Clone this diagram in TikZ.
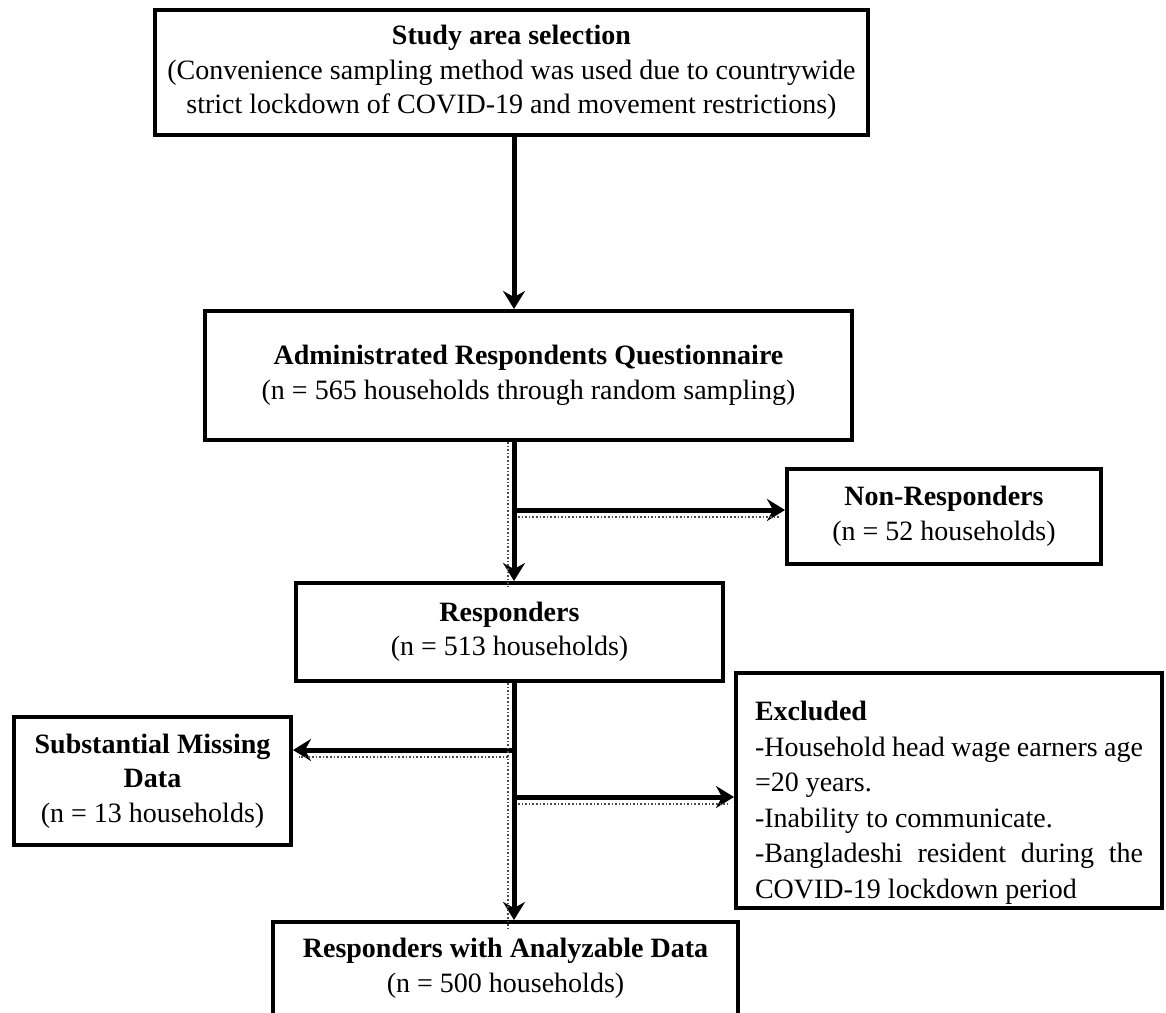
\documentclass[tikz,border=0pt]{standalone}
\usepackage{fontspec}
\setmainfont{Liberation Serif}
\usetikzlibrary{arrows.meta}
\begin{document}
\begin{tikzpicture}[x=1pt,y=-1pt,
  box/.style={draw=black, line width=4pt, align=center, inner sep=0pt,
    font=\fontsize{28}{34.5}\selectfont},
  conn/.style={line width=5pt, -{Stealth[length=18pt,width=22pt,inset=6pt]}},
  shadow/.style={line width=1.6pt, dotted, black!70}]
\useasboundingbox (0,0) rectangle (1166,1012);
\clip (0,0) rectangle (1166,1012);
\coordinate (sp) at (514,0);
\coordinate (spd) at (508,0);

\node[box, minimum width=713pt, minimum height=125pt] (study) at (511.5,72.5)
 {\textbf{Study area selection}\\(Convenience sampling method was used due to countrywide\\strict lockdown of COVID-19 and movement restrictions)};

\node[box, minimum width=647pt, minimum height=129pt] (admin) at (528.5,375.5)
 {\textbf{Administrated Respondents Questionnaire}\\(n = 565 households through random sampling)};

\node[box, minimum width=314pt, minimum height=95pt] (nonresp) at (944,516.5)
 {\textbf{Non-Responders}\\(n = 52 households)};

\node[box, minimum width=427pt, minimum height=98pt] (resp) at (509.5,632)
 {\textbf{Responders}\\(n = 513 households)};

\node[box, minimum width=277pt, minimum height=128pt] (missing) at (152.5,781)
 {\textbf{Substantial Missing}\\\textbf{Data}\\(n = 13 households)};

\node[box, minimum width=426pt, minimum height=235pt, align=left] (excl) at (949,790.5)
 {\parbox{388pt}{\fontsize{28}{35.5}\selectfont
  \vspace*{25pt}%
  \textbf{Excluded}\\
  -Household head wage earners age\\
  =20 years.\\
  -Inability to communicate.\\
  -Bangladeshi\hfill resident\hfill during\hfill the\\
  COVID-19 lockdown period}};

\node[box, minimum width=465pt, minimum height=120pt, anchor=north] (final) at (505.5,920)
 {};
\node[font=\fontsize{28}{34.5}\selectfont, align=center, anchor=north] (finaltext) at (505.5,935)
 {\textbf{Responders with Analyzable Data}\\(n = 500 households)};

% connectors
\draw[conn] (study.south -| sp) -- (admin.north -| sp);
\draw[conn] (admin.south -| sp) -- (resp.north -| sp);
\coordinate (b1) at (514,510);
\draw[conn] (b1) -- (b1 -| nonresp.west);
\draw[conn] (resp.south -| sp) -- (final.north -| sp);
\coordinate (b2) at (514,750);
\draw[conn] (b2) -- (b2 -| missing.east);
\coordinate (b3) at (514,797);
\draw[conn] (b3) -- (b3 -| excl.west);

% faint dotted shadows beside connectors
\draw[shadow] (admin.south -| spd) -- ([yshift=-6pt]resp.north -| spd);
\draw[shadow] (resp.south -| spd) -- ([yshift=-8pt]final.north -| spd);
\draw[shadow] ([yshift=-7pt,xshift=4pt]b1) -- ([yshift=-7pt,xshift=-6pt]b1 -| nonresp.west);
\draw[shadow] ([yshift=-7pt,xshift=-6pt]b2) -- ([yshift=-7pt,xshift=6pt]b2 -| missing.east);
\draw[shadow] ([yshift=-7pt,xshift=4pt]b3) -- ([yshift=-7pt,xshift=-6pt]b3 -| excl.west);
\end{tikzpicture}
\end{document}
